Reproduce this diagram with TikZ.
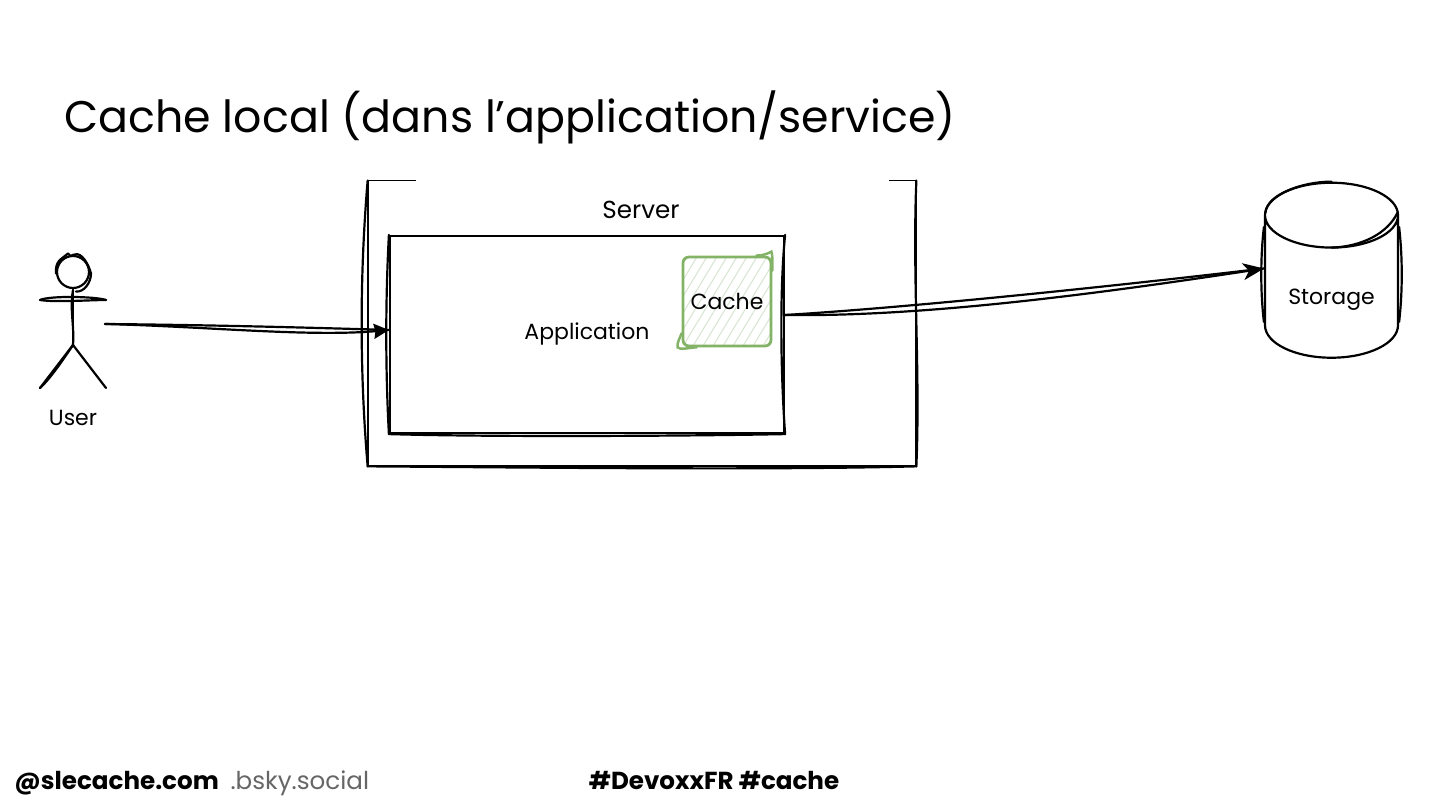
\documentclass[tikz,border=0pt]{standalone}
\usepackage{fontspec}
\setmainfont{Poppins}
\usetikzlibrary{shapes, positioning, arrows.meta}

\definecolor{cachegreen}{HTML}{82B366}
\definecolor{hachuregreen}{HTML}{D9E5D3}
\definecolor{socialgrey}{HTML}{666666}

\tikzset{
	sketch/.style={line width=1.25pt, line cap=round, line join=round},
	sketcharrow/.style={sketch, -{Stealth[length=0.42cm, width=0.34cm, inset=0.12cm]}},
	boxlabel/.style={font=\fontsize{12.5}{15}\selectfont, inner sep=0pt},
	footlabel/.style={font=\fontsize{14}{17}\selectfont\bfseries, inner sep=0pt, anchor=base west},
	hachure/.style={hachuregreen, line width=0.6pt}
}

\begin{document}
\begin{tikzpicture}
			\useasboundingbox (0,0) rectangle (28.8,16.2);
			\node[font=\fontsize{25.2}{30}\selectfont, inner sep=0pt, anchor=west] (title) at (1.28,13.86) {Cache local (dans l’application/service)};

			\node[minimum width=10.96cm, minimum height=5.70cm, inner sep=0pt] (server) at (12.84,9.73) {};
			\node[boxlabel, font=\fontsize{14}{17}\selectfont] (serverlabel) at (12.82,12.00) {Server};
			\draw[sketch] (server.north west) -- (server.south west) -- (server.south east) -- (server.north east);
			\draw[sketch] (server.north west) .. controls +(-0.16,-1.9) and +(-0.16,1.9) .. (server.south west);
			\draw[sketch] (server.north east) .. controls +(-0.08,-1.9) and +(0.08,1.9) .. (server.south east);
			\draw[sketch] (server.south west) .. controls +(3,-0.02) and +(-3,-0.08) .. (server.south east);
			\draw[line width=0.7pt] (server.north west) -- +(0.96,0);
			\draw[line width=0.7pt] (server.north east) -- +(-0.54,0);

			\node[boxlabel, draw, sketch, minimum width=7.88cm, minimum height=3.94cm] (application) at (11.74,9.51) {Application};
			\draw[sketch] (application.north west) .. controls +(-0.07,-1.3) and +(-0.07,1.3) .. (application.south west);
			\draw[sketch] (application.north east) .. controls +(-0.1,-1) and +(-0.1,1.4) .. (application.south east);
			\draw[sketch] (application.south west) .. controls +(2,-0.06) and +(-2,-0.04) .. (application.south east);

			\node[boxlabel, draw=cachegreen, line width=1.6pt, rounded corners=0.12cm, minimum width=1.76cm, minimum height=1.78cm,
				path picture={
					\foreach \i in {-1.0,-0.8,...,1.8}
						\draw[hachure] ([xshift=\i cm]path picture bounding box.south west) -- +(1.15,1.9);
				}] (cache) at (14.54,10.17) {Cache};
			\draw[cachegreen, line width=1.4pt, line cap=round] ([xshift=-0.32cm]cache.north east) .. controls +(0.12,0) and +(-0.06,-0.04) .. ([xshift=-0.02cm,yshift=0.08cm]cache.north east) .. controls +(0.03,-0.08) and +(0,0.12) .. ([yshift=-0.3cm]cache.north east);
			\draw[cachegreen, line width=1.4pt, line cap=round] ([yshift=0.28cm]cache.south west) .. controls +(-0.03,-0.08) and +(-0.02,0.08) .. ([xshift=-0.08cm]cache.south west) .. controls +(0.04,-0.06) and +(-0.12,0) .. ([xshift=0.3cm]cache.south west);

			\node[boxlabel, cylinder, shape border rotate=90, shape aspect=0.75, draw, sketch, minimum width=2.66cm, minimum height=3.5cm] (storage) at (26.63,10.46) {\raisebox{-0.36cm}[0pt][0pt]{Storage}};
			\draw[sketch] ([xshift=-1.32cm,yshift=-0.62cm]storage.north) .. controls +(0.02,0.35) and +(-0.6,0) .. (storage.north);
			\draw[sketch] ([xshift=1.32cm,yshift=-0.62cm]storage.north) .. controls +(-0.2,-0.42) and +(0.6,0.02) .. ([yshift=-1.32cm]storage.north);
			\draw[sketch] (storage.west) ++(0,1.2) .. controls +(-0.07,-0.6) and +(-0.07,0.6) .. +(0,-1.9);
			\draw[sketch] (storage.east) ++(0,1.2) .. controls +(0.07,-0.6) and +(0.07,0.6) .. +(0,-1.9);

			\coordinate (head) at (1.46,10.76);
			\coordinate (neck) at (1.46,10.40);
			\coordinate (hip) at (1.46,9.30);
			\coordinate (handleft) at (0.80,10.20);
			\coordinate (handright) at (2.12,10.20);
			\coordinate (footleft) at (0.80,8.44);
			\coordinate (footright) at (2.12,8.44);
			\draw[sketch] (head) circle (0.32);
			\draw[sketch] (head) ++(-0.34,-0.03) .. controls +(-0.02,0.25) and +(-0.14,-0.12) .. ++(0.24,0.40) .. controls +(0.1,-0.1) and +(-0.1,0) .. ++(0.14,-0.02) .. controls +(0.12,0.05) and +(-0.05,0.2) .. ++(0.32,-0.38) .. controls +(0,-0.18) and +(0.16,-0.02) .. ++(-0.30,-0.36);
			\draw[sketch] (neck) -- (hip);
			\draw[sketch] (neck) .. controls +(-0.07,-0.4) and +(0.03,0.4) .. (hip);
			\draw[sketch] (handleft) .. controls +(0.2,0.09) and +(-0.2,0.07) .. (handright);
			\draw[sketch] (handleft) .. controls +(0.3,-0.05) and +(-0.3,0) .. (handright);
			\draw[sketch] (hip) -- (footleft);
			\draw[sketch] (hip) .. controls +(-0.2,-0.3) and +(0.2,0.18) .. (footleft);
			\draw[sketch] (hip) -- (footright);
			\node[boxlabel] (userlabel) at (1.46,7.84) {User};

			\coordinate (userarrow) at (2.10,9.72);
			\draw[sketch] (userarrow) .. controls +(2,-0.02) and +(-2,0.06) .. ([yshift=0.09cm]application.west);
			\draw[sketch, -{Stealth[length=0.3cm, width=0.3cm, inset=0.03cm]}] (userarrow) .. controls +(2,-0.05) and +(-1.6,-0.14) .. ([yshift=0.09cm]application.west);

			\draw[sketch] ([yshift=0.39cm]application.east) .. controls (18,10.04) and (21.6,10.4) .. ([yshift=0.37cm]storage.west);
			\draw[sketcharrow] ([yshift=0.39cm]application.east) .. controls (18.4,9.86) and (21.8,10.3) .. ([yshift=0.37cm]storage.west);

			\node[footlabel] (handle) at (0.28,0.40) {@slecache.com};
			\node[footlabel, socialgrey, font=\fontsize{14}{17}\selectfont, base right=0.22cm of handle] (social) {.bsky.social};
			\node[footlabel, anchor=base] (tags) at (14.28,0.40) {\#DevoxxFR \#cache};
		\end{tikzpicture}
\end{document}
